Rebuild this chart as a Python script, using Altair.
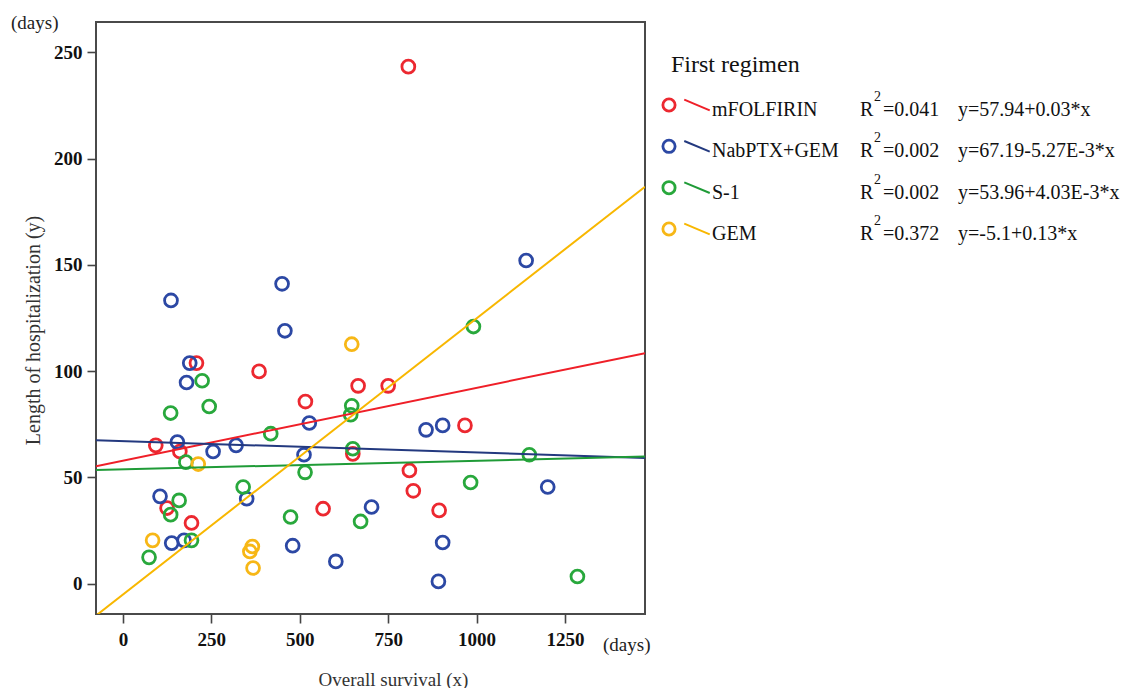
import altair as alt
import pandas as pd

# ---------------- data ----------------
regimens = ["mFOLFIRIN", "NabPTX+GEM", "S-1", "GEM"]
point_colors = ["#ec2830", "#2c48a4", "#28a83c", "#f7b716"]
line_colors = ["#ef1f28", "#23397f", "#1f9b37", "#f8b700"]

mfolfirin_os = [807, 208, 385, 665, 750, 516, 93, 161, 650, 125, 194, 566, 967, 810, 821, 894]
mfolfirin_los = [243.3, 103.8, 99.9, 93.1, 93.1, 85.7, 65.1, 62.2, 61.1, 35.6, 28.6, 35.3, 74.5, 53.3, 43.7, 34.5]

nab_os = [136, 450, 458, 1140, 189, 180, 527, 154, 255, 320, 512, 105, 350, 138, 173, 480, 602, 703, 857, 904, 1201, 904, 892]
nab_los = [133.3, 141.1, 119.0, 152.1, 103.8, 94.7, 75.6, 66.7, 62.2, 65.1, 60.7, 41.1, 40.0, 19.1, 20.4, 17.9, 10.5, 36.1, 72.4, 74.5, 45.5, 19.4, 1.1]

s1_os = [991, 224, 135, 244, 647, 644, 418, 178, 515, 650, 159, 135, 194, 74, 340, 474, 672, 1149, 983, 1285]
s1_los = [121.0, 95.5, 80.3, 83.4, 83.7, 79.5, 70.6, 57.2, 52.4, 63.5, 39.2, 32.5, 20.4, 12.4, 45.5, 31.4, 29.3, 60.7, 47.6, 3.4]

gem_os = [647, 213, 84, 366, 359, 368]
gem_los = [112.7, 56.3, 20.4, 17.5, 15.2, 7.4]

# fitted regression lines: values at the left and right edge of the plot
fit_x = [-76, 1476]
fit_y = {
    "mFOLFIRIN": [55.3, 108.5],
    "NabPTX+GEM": [67.5, 59.2],
    "S-1": [53.5, 59.8],
    "GEM": [-15.0, 186.8],
}

r2_values = ["=0.041", "=0.002", "=0.002", "=0.372"]
equations = ["y=57.94+0.03*x", "y=67.19-5.27E-3*x", "y=53.96+4.03E-3*x", "y=-5.1+0.13*x"]

x_ticks = [0, 250, 500, 750, 1000, 1250]
y_ticks = [0, 50, 100, 150, 200, 250]

# ---------------- tables ----------------
series = {
    "mFOLFIRIN": (mfolfirin_os, mfolfirin_los),
    "NabPTX+GEM": (nab_os, nab_los),
    "S-1": (s1_os, s1_los),
    "GEM": (gem_os, gem_los),
}
pts = pd.DataFrame(
    [{"regimen": r, "os": xv, "los": yv, "order": i}
     for i, r in enumerate(regimens) for xv, yv in zip(*series[r])]
)
fits = pd.DataFrame(
    [{"regimen": r, "os": fit_x[k], "los": fit_y[r][k]} for r in regimens for k in range(2)]
)
leg = pd.DataFrame({
    "regimen": regimens,
    "row": list(range(len(regimens))),
    "r2": r2_values,
    "eq": equations,
    "R": ["R"] * 4,
    "sup": ["2"] * 4,
})

FONT = "Liberation Serif"
X_DOMAIN = [-76, 1476]
Y_DOMAIN = [-14.25, 264.3]

x_enc = alt.X("os:Q", scale=alt.Scale(domain=X_DOMAIN, nice=False, zero=False),
              axis=alt.Axis(values=x_ticks, format="d", title="Overall survival (x)",
                            titleX=297, titleY=65, titleAlign="center", titleBaseline="middle",
                            titleFontSize=19))
y_enc = alt.Y("los:Q", scale=alt.Scale(domain=Y_DOMAIN, nice=False, zero=False),
              axis=alt.Axis(values=y_ticks, format="d", title="Length of hospitalization (y)",
                            titleX=-63, titleY=308, titleAlign="center", titleBaseline="middle",
                            titleFontSize=20))

points = alt.Chart(pts).mark_point(
    shape="circle", filled=False, size=165, strokeWidth=2.8, opacity=1
).encode(
    x=x_enc, y=y_enc,
    color=alt.Color("regimen:N", scale=alt.Scale(domain=regimens, range=point_colors), legend=None),
)

lines = alt.Chart(fits).mark_line(strokeWidth=2, clip=True).encode(
    x=alt.X("os:Q"), y=alt.Y("los:Q"),
    detail="regimen:N",
    color=alt.Color("regimen:N", scale=alt.Scale(domain=regimens, range=line_colors), legend=None),
)

days_df = pd.DataFrame({"t": ["(days)"]})
days_y = alt.Chart(days_df).mark_text(font=FONT, fontSize=19, align="left", baseline="middle", color="#222").encode(
    text="t:N", x=alt.value(-85), y=alt.value(1))
days_x = alt.Chart(days_df).mark_text(font=FONT, fontSize=19, align="left", baseline="middle", color="#222").encode(
    text="t:N", x=alt.value(507), y=alt.value(623))

main = alt.layer(points, lines, days_y, days_x).resolve_scale(color="independent")

# ---------------- legend ----------------
row_y = alt.Y("row:Q", scale=alt.Scale(domain=[0, 3], range=[83, 207]), axis=None)

leg_circ = alt.Chart(leg).mark_point(shape="circle", filled=False, size=150, strokeWidth=2.8, opacity=1).encode(
    x=alt.value(573), y=row_y,
    color=alt.Color("regimen:N", scale=alt.Scale(domain=regimens, range=point_colors), legend=None),
)
leg_seg = alt.Chart(leg).mark_point(shape="M-1,-0.42L1,0.42", filled=False, size=650, strokeWidth=2, opacity=1).encode(
    x=alt.value(601), y=row_y,
    color=alt.Color("regimen:N", scale=alt.Scale(domain=regimens, range=line_colors), legend=None),
)
txt = dict(font=FONT, fontSize=20, align="left", baseline="middle", color="#111", dy=5)
leg_name = alt.Chart(leg).mark_text(**txt).encode(x=alt.value(616), y=row_y, text="regimen:N")
leg_R = alt.Chart(leg).mark_text(**txt).encode(x=alt.value(764), y=row_y, text="R:N")
leg_sup = alt.Chart(leg).mark_text(font=FONT, fontSize=14, align="left", baseline="middle", color="#111", dy=-8).encode(
    x=alt.value(778), y=row_y, text="sup:N")
leg_r2 = alt.Chart(leg).mark_text(**txt).encode(x=alt.value(787), y=row_y, text="r2:N")
leg_eq = alt.Chart(leg).mark_text(**txt).encode(x=alt.value(862), y=row_y, text="eq:N")

title_df = pd.DataFrame({"t": ["First regimen"]})
leg_title = alt.Chart(title_df).mark_text(font=FONT, fontSize=24, align="left", baseline="middle", color="#111").encode(
    text="t:N", x=alt.value(575), y=alt.value(43))

legend = alt.layer(leg_circ, leg_seg, leg_name, leg_R, leg_sup, leg_r2, leg_eq, leg_title).resolve_scale(color="independent")

chart = alt.layer(main, legend).resolve_scale(
    x="independent", y="independent", color="independent"
).properties(
    width=549, height=592,
    autosize=alt.AutoSizeParams(type="none"),
    padding={"left": 88, "top": 14, "right": 483, "bottom": 74},
).configure_view(
    stroke="#4a4a4a", strokeWidth=2
).configure_axis(
    grid=False, domain=False,
    labelFont=FONT, labelFontSize=19, labelFontWeight="bold", labelColor="#111",
    tickColor="#444", tickSize=9, tickWidth=1.6,
    titleFont=FONT, titleFontWeight="normal", titleColor="#333",
).configure_axisY(labelPadding=5).configure_axisX(labelPadding=7)

chart.save("out.html", embed_options={"renderer": "svg", "actions": False})
